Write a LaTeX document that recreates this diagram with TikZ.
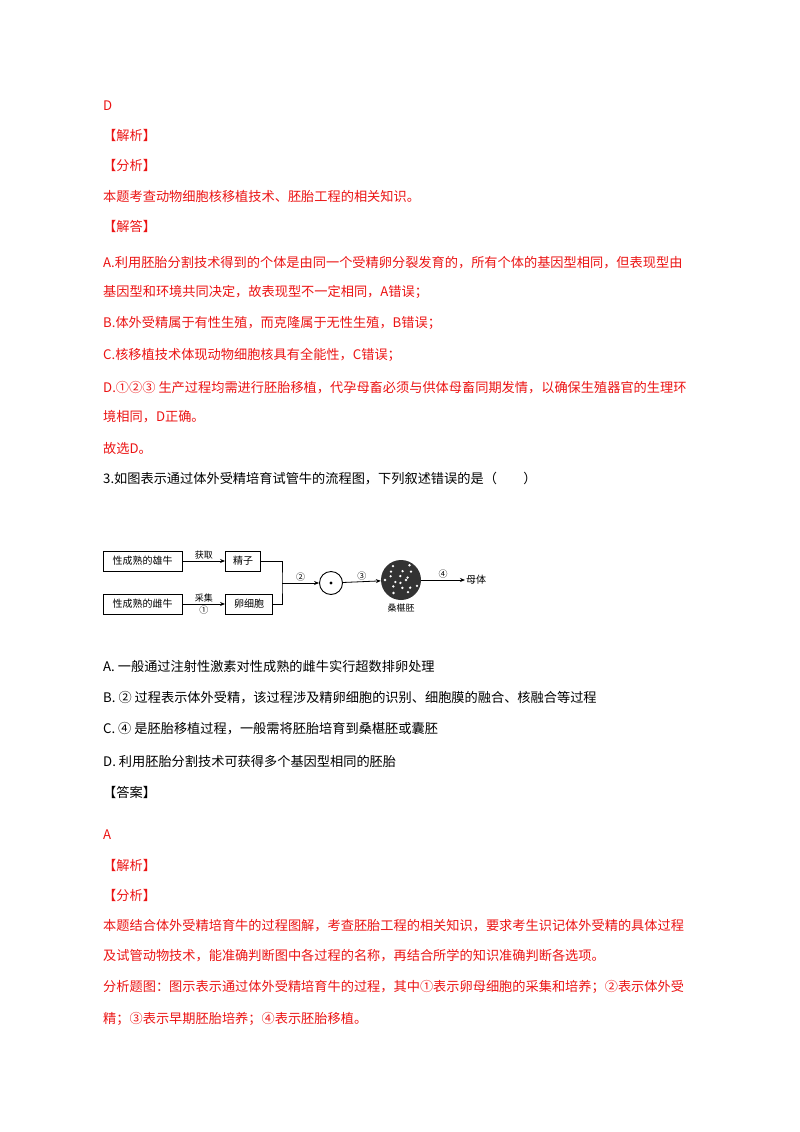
\documentclass[tikz,border=0pt]{standalone}
\usepackage{fontspec}
\setmainfont{Liberation Serif}
\newfontfamily\cjk{Noto Sans CJK SC}
\usetikzlibrary{arrows.meta}
\definecolor{rd}{RGB}{235,20,20}
\begin{document}
\begin{tikzpicture}[x=1pt,y=-1pt,
  t/.style={anchor=west,inner sep=0pt,font=\fontsize{13.2}{14}\cjk},
  r/.style={t,text=rd},
  bx/.style={draw,line width=0.9pt,inner sep=2pt,font=\fontsize{10}{11}\cjk,minimum height=20pt},
  lb/.style={font=\fontsize{9}{10}\cjk,inner sep=1pt},
  ar/.style={-{Stealth[length=5pt,width=4pt]},line width=0.8pt}]
\useasboundingbox (0,0) rectangle (800,1132);
\node[r] (l1) at (103,106) {D};
\node[r] (l2) at (103,135) {【解析】};
\node[r] (l3) at (103,165) {【分析】};
\node[r] (l4) at (103,196) {本题考查动物细胞核移植技术、胚胎工程的相关知识。};
\node[r] (l5) at (103,226) {【解答】};
\node[r] (l6) at (103,263) {A.利用胚胎分割技术得到的个体是由同一个受精卵分裂发育的，所有个体的基因型相同，但表现型由};
\node[r] (l7) at (103,292) {基因型和环境共同决定，故表现型不一定相同，A错误；};
\node[r] (l8) at (103,323) {B.体外受精属于有性生殖，而克隆属于无性生殖，B错误；};
\node[r] (l9) at (103,355) {C.核移植技术体现动物细胞核具有全能性，C错误；};
\node[r] (l10) at (103,388) {D.①②③ 生产过程均需进行胚胎移植，代孕母畜必须与供体母畜同期发情，以确保生殖器官的生理环};
\node[r] (l11) at (103,417) {境相同，D正确。};
\node[r] (l12) at (103,448) {故选D。};
\node[t] (q) at (103,479) {3.如图表示通过体外受精培育试管牛的流程图，下列叙述错误的是（　　）};
% diagram
\node[bx,minimum width=79pt] (m) at (142.5,561) {性成熟的雄牛};
\node[bx,minimum width=79pt] (f) at (142.5,604) {性成熟的雌牛};
\node[bx,minimum width=35pt] (s) at (243,561) {精子};
\node[bx,minimum width=47pt] (e) at (249,604) {卵细胞};
\draw[ar] (m) -- node[lb,above]{获取} (s);
\draw[ar] (f) -- node[lb,above]{采集} node[lb,below]{①} (e);
\coordinate (j) at (282,583);
\draw[line width=0.8pt] (s.east) -| (j) |- (e.east);
\node[draw,circle,line width=0.9pt,minimum size=23pt,inner sep=0pt] (z) at (331,583) {};
\fill (z) circle (1.6pt);
\draw[ar] (j) -- node[lb,above]{②} (z);
\node[circle,fill=black!80,minimum size=40pt,inner sep=0pt] (mo) at (401,580) {};
\foreach \a/\rr in {0/5,40/12,80/8,120/15,160/6,200/11,240/16,280/9,320/13,20/17,100/3,180/16,260/4,300/17,60/14,140/10,220/13,340/7}
  \fill[white] (mo) ++(\a:\rr) circle (1.3pt);
\node[lb,anchor=north] (mol) at (401,603) {桑椹胚};
\draw[ar] (z) -- node[lb,above]{③} (mo);
\node[lb,anchor=west,font=\fontsize{10}{11}\cjk] (mt) at (465,580) {母体};
\draw[ar] (mo) -- node[lb,above]{④} (mt);
% options
\node[t] (oa) at (103,666) {A.  一般通过注射性激素对性成熟的雌牛实行超数排卵处理};
\node[t] (ob) at (103,698) {B.  ② 过程表示体外受精，该过程涉及精卵细胞的识别、细胞膜的融合、核融合等过程};
\node[t] (oc) at (103,729) {C.  ④ 是胚胎移植过程，一般需将胚胎培育到桑椹胚或囊胚};
\node[t] (od) at (103,761) {D.  利用胚胎分割技术可获得多个基因型相同的胚胎};
\node[t] (an) at (103,792) {【答案】};
\node[r] (a1) at (103,835) {A};
\node[r] (a2) at (103,865) {【解析】};
\node[r] (a3) at (103,895) {【分析】};
\node[r] (a4) at (103,926) {本题结合体外受精培育牛的过程图解，考查胚胎工程的相关知识，要求考生识记体外受精的具体过程};
\node[r] (a5) at (103,956) {及试管动物技术，能准确判断图中各过程的名称，再结合所学的知识准确判断各选项。};
\node[r] (a6) at (103,987) {分析题图：图示表示通过体外受精培育牛的过程，其中①表示卵母细胞的采集和培养；②表示体外受};
\node[r] (a7) at (103,1019) {精；③表示早期胚胎培养；④表示胚胎移植。};
\end{tikzpicture}
\end{document}
